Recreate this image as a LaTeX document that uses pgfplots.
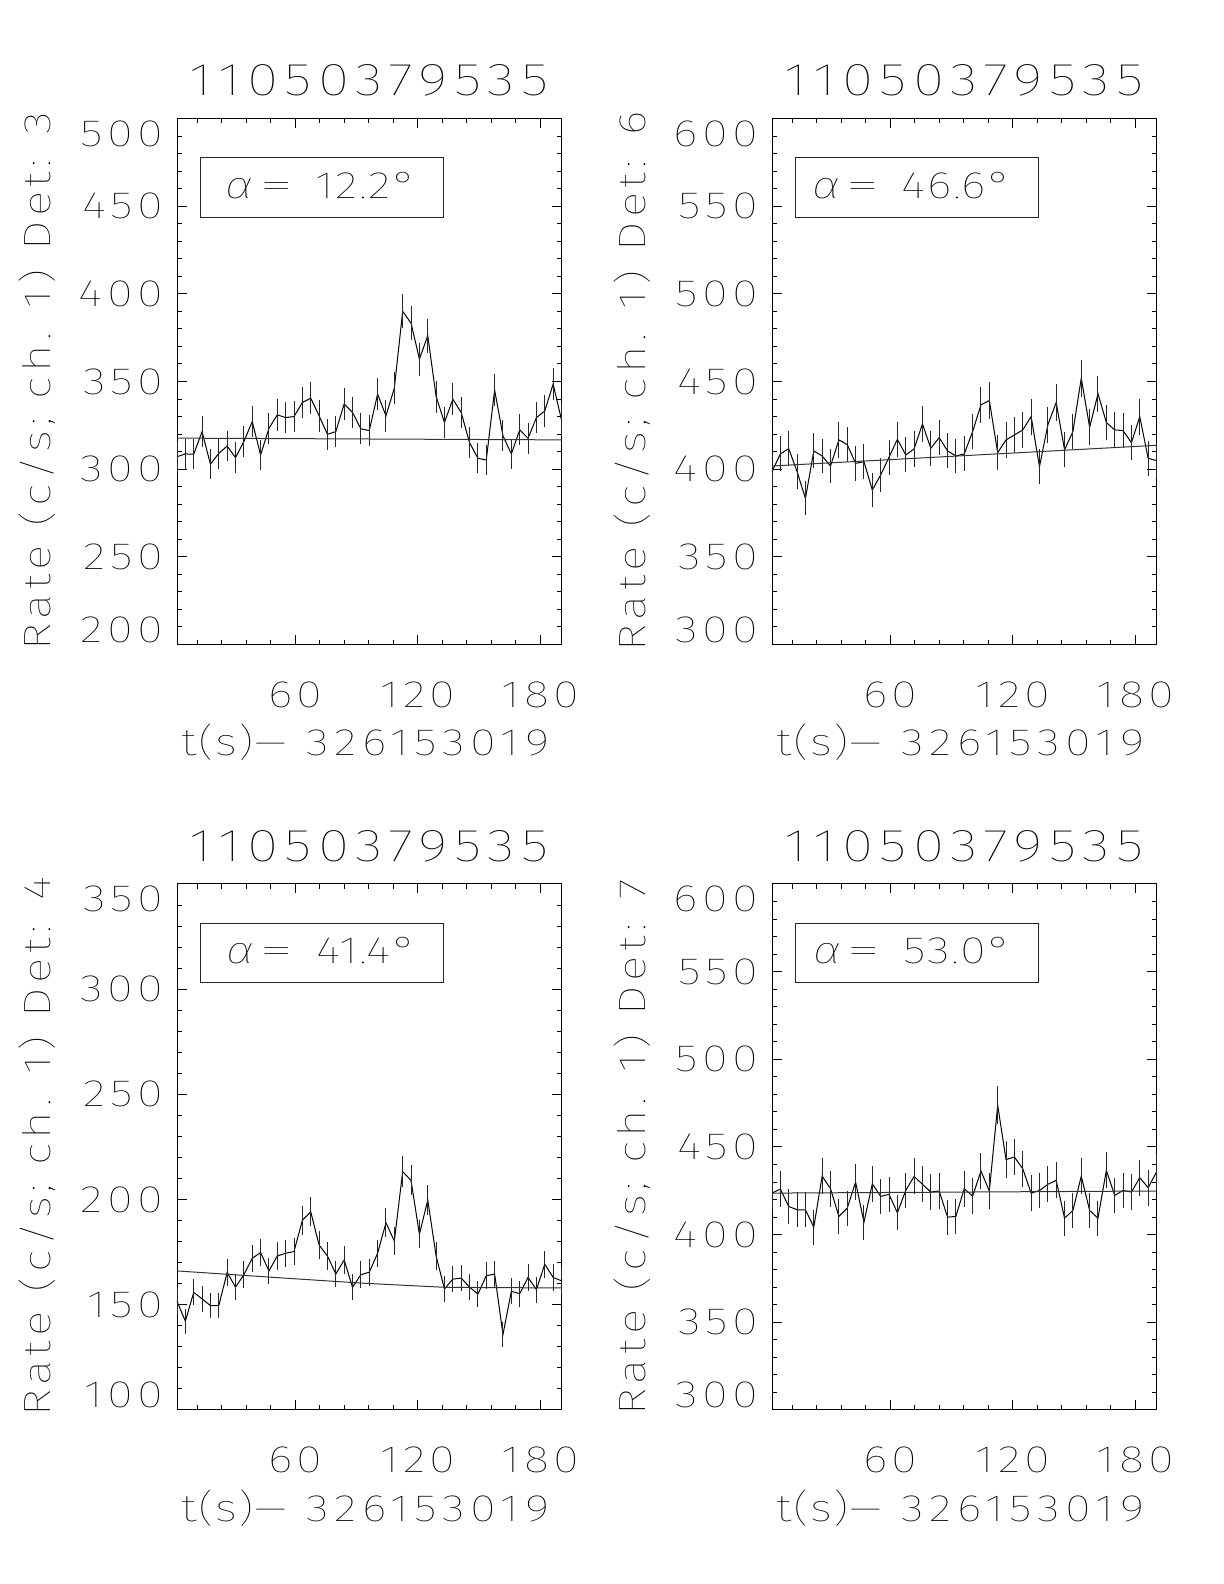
\documentclass[border=0pt]{standalone}
\usepackage{fontspec}
\setmainfont{Fira Sans Thin}[FakeStretch=1.25, LetterSpace=12]
\usepackage{pgfplots}
\usepackage{pgfplotstable}
\pgfplotsset{compat=1.18}

\newcommand{\tickfont}{\fontsize{19bp}{22bp}\selectfont}
\newcommand{\titfont}{\fontsize{23bp}{27bp}\selectfont\addfontfeature{LetterSpace=14}}

\pgfplotstableread{
x y e
2.00 307.1 8.66
6.10 308.7 8.68
10.19 308.5 8.68
14.29 321.4 8.86
18.38 302.8 8.60
22.48 309.0 8.69
26.58 313.2 8.74
30.67 306.6 8.65
34.77 315.7 8.78
38.86 327.1 8.94
42.96 308.1 8.67
47.06 323.3 8.88
51.15 331.0 8.99
55.25 329.4 8.97
59.34 330.0 8.98
63.44 338.0 9.08
67.54 340.5 9.12
71.63 330.4 8.98
75.73 319.9 8.84
79.82 321.4 8.86
83.92 337.2 9.07
88.02 332.3 9.01
92.11 323.0 8.88
96.21 322.0 8.87
100.30 342.8 9.15
104.40 330.4 8.98
108.50 346.2 9.19
112.59 390.0 9.76
116.69 383.3 9.67
120.78 362.8 9.41
124.88 376.1 9.58
128.98 341.4 9.13
133.07 326.6 8.93
137.17 339.9 9.11
141.26 332.3 9.01
145.36 315.1 8.77
149.46 306.2 8.65
153.55 305.2 8.63
157.65 345.2 9.18
161.74 319.0 8.83
165.84 308.7 8.68
169.94 322.4 8.87
174.03 317.6 8.81
178.13 329.4 8.97
182.22 333.2 9.02
186.32 348.5 9.22
190.42 328.1 8.95
}\detthree

\pgfplotstableread{
x y e
2.00 398.6 9.86
6.10 408.7 9.99
10.19 411.7 10.03
14.29 398.6 9.86
18.38 383.3 9.67
22.48 410.4 10.01
26.58 407.5 9.97
30.67 401.8 9.90
34.77 416.7 10.09
38.86 414.0 10.05
42.96 403.3 9.92
47.06 404.3 9.94
51.15 388.1 9.73
55.25 396.7 9.84
59.34 406.8 9.97
63.44 417.0 10.09
67.54 408.1 9.98
71.63 411.5 10.02
75.73 425.8 10.20
79.82 411.9 10.03
83.92 418.0 10.10
88.02 410.4 10.01
92.11 407.5 9.97
96.21 408.7 9.99
100.30 421.4 10.14
104.40 436.7 10.33
108.50 439.1 10.35
112.59 409.4 10.00
116.69 416.7 10.09
120.78 419.5 10.12
124.88 422.4 10.16
128.98 430.0 10.25
133.07 401.4 9.90
137.17 425.2 10.19
141.26 438.0 10.34
145.36 411.0 10.02
149.46 421.4 10.14
153.55 451.9 10.50
157.65 423.9 10.17
161.74 443.0 10.40
165.84 426.6 10.21
169.94 422.4 10.16
174.03 422.0 10.15
178.13 415.1 10.07
182.22 430.0 10.25
186.32 406.2 9.96
190.42 404.9 9.94
}\detsix

\pgfplotstableread{
x y e
2.00 151.7 6.09
6.10 142.2 5.89
10.19 155.9 6.17
14.29 152.8 6.11
18.38 149.6 6.04
22.48 149.6 6.04
26.58 165.4 6.35
30.67 158.4 6.22
34.77 164.3 6.33
38.86 172.1 6.48
42.96 174.8 6.53
47.06 166.1 6.37
51.15 173.2 6.50
55.25 174.5 6.53
59.34 175.3 6.54
63.44 190.2 6.81
67.54 194.2 6.89
71.63 178.4 6.60
75.73 173.2 6.50
79.82 164.6 6.34
83.92 171.3 6.47
88.02 158.3 6.22
92.11 164.3 6.33
96.21 165.5 6.36
100.30 174.5 6.53
104.40 189.0 6.79
108.50 180.3 6.63
112.59 213.3 7.22
116.69 209.1 7.14
120.78 183.5 6.69
124.88 199.8 6.98
128.98 173.2 6.50
133.07 157.5 6.20
137.17 162.2 6.29
141.26 162.7 6.30
145.36 158.4 6.22
149.46 155.1 6.15
153.55 163.8 6.32
157.65 164.6 6.34
161.74 135.9 5.76
165.84 156.4 6.18
169.94 155.3 6.16
174.03 163.0 6.31
178.13 157.2 6.20
182.22 169.3 6.43
186.32 163.0 6.31
190.42 161.4 6.28
}\detfour

\pgfplotstableread{
x y e
2.00 423.7 10.17
6.10 426.0 10.20
10.19 416.1 10.08
14.29 414.2 10.06
18.38 414.2 10.06
22.48 404.3 9.94
26.58 433.4 10.29
30.67 426.2 10.20
34.77 410.4 10.01
38.86 415.1 10.07
42.96 430.0 10.25
47.06 407.1 9.97
51.15 429.0 10.23
55.25 421.8 10.15
59.34 423.0 10.16
63.44 412.5 10.04
67.54 425.2 10.19
71.63 433.2 10.28
75.73 428.7 10.23
79.82 424.3 10.18
83.92 424.9 10.19
88.02 410.0 10.00
92.11 410.4 10.01
96.21 426.2 10.20
100.30 422.0 10.15
104.40 436.3 10.32
108.50 424.9 10.19
112.59 473.8 10.76
116.69 442.8 10.40
120.78 444.3 10.42
124.88 437.6 10.34
128.98 423.7 10.17
133.07 425.2 10.19
137.17 428.7 10.23
141.26 431.0 10.26
145.36 409.4 10.00
149.46 413.8 10.05
153.55 433.4 10.29
157.65 413.8 10.05
161.74 409.4 10.00
165.84 436.7 10.33
169.94 422.4 10.16
174.03 425.2 10.19
178.13 424.3 10.18
182.22 432.5 10.28
186.32 426.8 10.21
190.42 435.7 10.31
}\detseven

\pgfplotsset{
  panel/.style={
    scale only axis, width=192.25bp, height=263bp,
    anchor=south west, clip=false,
    xmin=2, xmax=190.42,
    xtick={60,120,180},
    minor xtick={12,24,36,48,72,84,96,108,132,144,156,168},
    minor y tick num=4,
    tickpos=both, tick align=inside,
    major tick length=4.75bp, minor tick length=2.4bp,
    tick style={black, line width=0.5bp},
    axis line style={line width=0.5bp, black},
    /pgf/number format/assume math mode=true,
    tick label style={font=\tickfont},
    xticklabel style={anchor=base, inner sep=0pt, yshift=-31.4bp},
    yticklabel style={anchor=east, inner sep=0pt, xshift=-6.7bp},
    title style={at={(axis description cs:0.5,1)}, anchor=base, yshift=5.5bp, font=\titfont},
    title={11050379535},
    xlabel={{\addfontfeature{LetterSpace=4}t(s)}\scalebox{1.4}[1]{–}\hspace{9bp}{\addfontfeature{LetterSpace=15}326153019}},
    xlabel style={at={(axis description cs:0.5,0)}, anchor=base, yshift=-55.6bp, xshift=-2bp, font=\tickfont},
    ylabel style={at={(axis description cs:-0.364,0.5)}, anchor=center, font=\tickfont},
  },
  dat/.style={black, line width=0.5bp, mark=none,
    error bars/.cd, y dir=both, y explicit, error mark=none,
    error bar style={line width=0.5bp, black!85}},
  fit/.style={black!80, line width=0.5bp, mark=none},
}

\newcommand{\alphabox}[1]{%
  \draw[line width=0.5bp, black!85] (rel axis cs:0.062,0.812) rectangle (rel axis cs:0.694,0.925);
  \node[font=\tickfont, inner sep=0pt, anchor=base east] at (rel axis cs:0.625,0.848) {\addfontfeature{LetterSpace=4}\textit{α}\hspace{2bp}\scalebox{1.5}[1]{=}\hspace{11bp}#1°};
}
\newcommand{\yendlabels}[2]{%
  \node[anchor=east, inner sep=0pt, xshift=-6.7bp, yshift=7.5bp, font=\tickfont] at (rel axis cs:0,0) {#1};
  \node[anchor=east, inner sep=0pt, xshift=-6.7bp, yshift=-7.5bp, font=\tickfont] at (rel axis cs:0,1) {#2};
}

\begin{document}
\begin{tikzpicture}
\path[use as bounding box] (0,0) rectangle (612bp,792bp);

% top-left: Det 3
\begin{axis}[panel, at={(88.5bp,469.75bp)},
  ymin=200, ymax=500, ytick={200,250,...,500},
  yticklabels={{},250,300,350,400,450,{}},
  ylabel={Rate (c/s; ch. 1) Det: 3}]
\addplot[dat] table[x=x, y=y, y error=e] {\detthree};
\addplot[fit] coordinates {(2,317.7) (190.42,316.7)};
\alphabox{12.2}
\yendlabels{200}{500}
\end{axis}

% top-right: Det 6
\begin{axis}[panel, at={(386bp,469.75bp)},
  ymin=300, ymax=600, ytick={300,350,...,600},
  yticklabels={{},350,400,450,500,550,{}},
  ylabel={Rate (c/s; ch. 1) Det: 6}]
\addplot[dat] table[x=x, y=y, y error=e] {\detsix};
\addplot[fit] coordinates {(2,401.8) (190.42,413.6)};
\alphabox{46.6}
\yendlabels{300}{600}
\end{axis}

% bottom-left: Det 4
\begin{axis}[panel, at={(88.5bp,87bp)},
  ymin=100, ymax=350, ytick={100,150,...,350},
  yticklabels={{},150,200,250,300,{}},
  ylabel={Rate (c/s; ch. 1) Det: 4}]
\addplot[dat] table[x=x, y=y, y error=e] {\detfour};
\addplot[fit] coordinates {(2,166.1) (48.2,163.1) (92.4,160.3) (133.4,158.3) (190.42,158.0)};
\alphabox{41.4}
\yendlabels{100}{350}
\end{axis}

% bottom-right: Det 7
\begin{axis}[panel, at={(386bp,87bp)},
  ymin=300, ymax=600, ytick={300,350,...,600},
  yticklabels={{},350,400,450,500,550,{}},
  ylabel={Rate (c/s; ch. 1) Det: 7}]
\addplot[dat] table[x=x, y=y, y error=e] {\detseven};
\addplot[fit] coordinates {(2,423.7) (190.42,424.9)};
\alphabox{53.0}
\yendlabels{300}{600}
\end{axis}
\end{tikzpicture}
\end{document}
